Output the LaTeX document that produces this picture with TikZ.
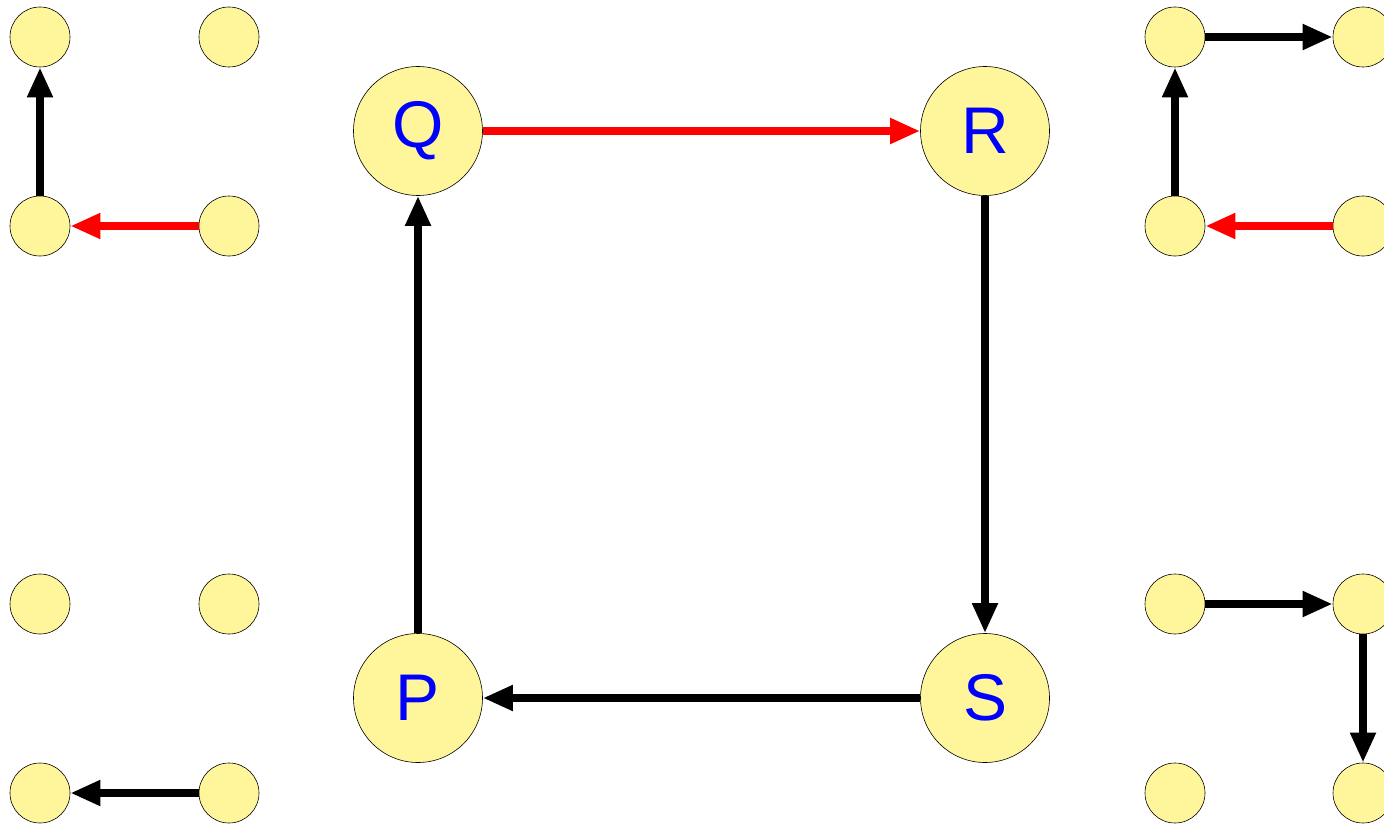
\documentclass[tikz,border=0pt]{standalone}
\usepackage{fontspec}
\setmainfont{Liberation Sans}
\usepackage{xcolor}
\definecolor{pyellow}{RGB}{255,246,155}
\definecolor{pblue}{RGB}{0,0,255}
\usetikzlibrary{arrows.meta,positioning}

\begin{document}
\begin{tikzpicture}[
  x=1pt,y=-1pt,on grid,
  bignode/.style={circle,draw,semithick,fill=pyellow,minimum size=129pt,inner sep=0pt,text=pblue,font=\fontsize{66}{66}\selectfont},
  dot/.style={circle,draw,semithick,fill=pyellow,minimum size=60pt,inner sep=0pt},
  arrow/.style={-{Triangle[length=30pt,width=24pt]},line width=7.5pt},
  redarrow/.style={arrow,red}
]
  \useasboundingbox (0,0) rectangle (1384,824);

  % Main cycle
  \node[bignode] (q) at (418,131) {Q};
  \node[bignode,right=567pt of q] (r) {R};
  \node[bignode,below=567pt of q] (p) {P};
  \node[bignode,below=567pt of r] (s) {S};

  % Top left
  \node[dot] (a1) at (40,37) {};
  \node[dot,right=189pt of a1] (a2) {};
  \node[dot,below=189pt of a1] (a3) {};
  \node[dot,right=189pt of a3] (a4) {};

  % Bottom left
  \node[dot] (b1) at (40,604) {};
  \node[dot,right=189pt of b1] (b2) {};
  \node[dot,below=189pt of b1] (b3) {};
  \node[dot,right=189pt of b3] (b4) {};

  % Top right
  \node[dot] (c1) at (1175,37) {};
  \node[dot,right=188pt of c1] (c2) {};
  \node[dot,below=189pt of c1] (c3) {};
  \node[dot,right=188pt of c3] (c4) {};

  % Bottom right
  \node[dot] (d1) at (1175,604) {};
  \node[dot,right=188pt of d1] (d2) {};
  \node[dot,below=189pt of d1] (d3) {};
  \node[dot,right=188pt of d3] (d4) {};

  % Arrows
  \draw[arrow] (p) -- (q);
  \draw[redarrow] (q) -- (r);
  \draw[arrow] (r) -- (s);
  \draw[arrow] (s) -- (p);

  \draw[redarrow] (a4) -- (a3);
  \draw[arrow] (a3) -- (a1);
  \draw[arrow] (b4) -- (b3);
  \draw[arrow] (c1) -- (c2);
  \draw[redarrow] (c4) -- (c3);
  \draw[arrow] (c3) -- (c1);
  \draw[arrow] (d1) -- (d2);
  \draw[arrow] (d2) -- (d4);
\end{tikzpicture}
\end{document}
